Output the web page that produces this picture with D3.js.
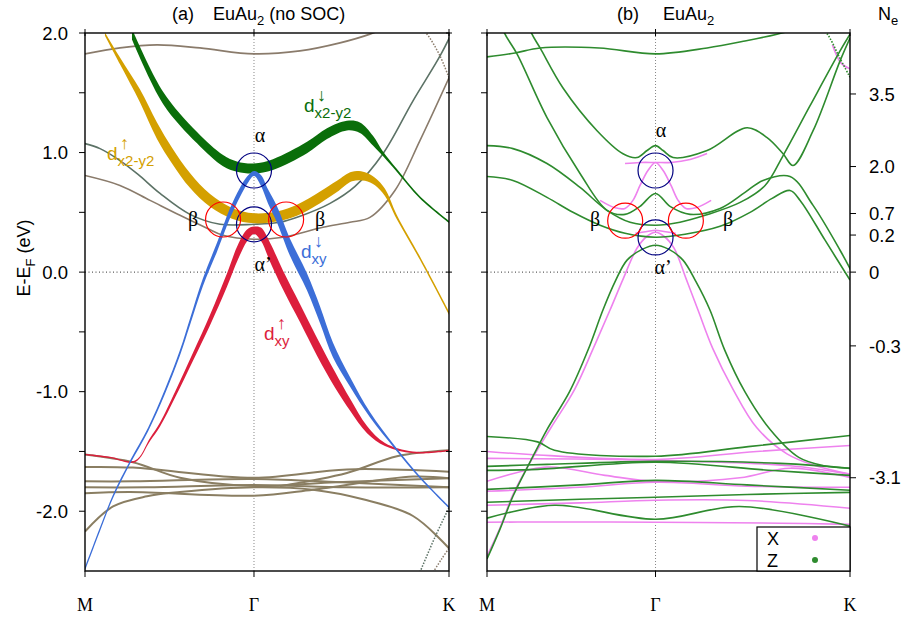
<!DOCTYPE html>
<html><head><meta charset="utf-8">
<script src="https://cdn.jsdelivr.net/npm/d3@7"></script>
<style>
body{margin:0;background:#fff}
text{font-family:"Liberation Sans",Arial,sans-serif}
.serif{font-family:"Liberation Serif","Times New Roman",serif}
</style></head>
<body><svg id="c" width="909" height="618"></svg>
<script>
// ---------- axes data ----------
const kPoints = [0, 1, 2.154];
const kLabels = ["M", "Γ", "K"];
const eMajor = [2.0, 1.0, 0.0, -1.0, -2.0];
const eMinor = [1.5, 0.5, -0.5, -1.5];
const neTickE = [1.49, 0.883, 0.49, 0.31, 0.0, -0.617, -1.72];
const neLabels = ["3.5", "2.0", "0.7", "0.2", "0", "-0.3", "-3.1"];

// ---------- panel (a) bands : [k, E] ----------
const aTop = [[0,1.825],[0.207,1.875],[0.426,1.90],[0.68,1.875],[1,1.825],[1.272,1.85],[1.509,1.917],[1.686,1.99],[1.834,2.08]];
const aLineA = [[0,1.075],[0.089,1.033],[0.207,0.933],[0.314,0.817],[0.444,0.658],[0.621,0.483],[0.799,0.40],[1,0.40],[1.154,0.417],[1.272,0.467],[1.45,0.575],[1.598,0.717],[1.763,0.99],[1.941,1.433],[2.101,1.808],[2.19,2.058]];
const aLineB = [[0,0.808],[0.207,0.725],[0.385,0.60],[0.562,0.475],[0.722,0.367],[0.817,0.308],[1,0.275],[1.172,0.292],[1.408,0.375],[1.568,0.417],[1.686,0.458],[1.834,0.683],[1.982,1.10],[2.154,1.625]];
const aK1 = [[1.923,2.14],[2.024,1.99],[2.1,1.81],[2.154,1.625]];
const aF1 = [[0,-1.525],[0.284,-1.59],[0.562,-1.72],[1,-1.79],[1.45,-1.76],[2.154,-1.725]];
const aF2 = [[0,-1.63],[0.284,-1.635],[1,-1.72],[1.55,-1.65],[2.154,-1.67]];
const aF3 = [[0,-1.75],[0.284,-1.75],[1,-1.73],[1.55,-1.76],[2.154,-1.80]];
const aF4 = [[0,-1.80],[0.367,-1.80],[1,-1.78],[1.55,-1.80],[2.154,-1.80]];
const aF5 = [[0,-1.85],[0.266,-1.84],[1,-1.87],[1.349,-1.82],[1.941,-1.71],[2.154,-1.725]];
const aF6 = [[0,-2.17],[0.166,-1.96],[0.367,-1.875],[0.562,-1.84],[1,-1.80],[1.349,-1.82],[1.645,-1.90],[1.941,-2.04],[2.154,-2.31]];
const aF7 = [[1.154,-1.79],[1.55,-1.68],[1.846,-1.54],[2.154,-1.49]];
const aK2 = [[1.982,-2.51],[2.07,-2.22],[2.154,-1.97]];
const aK3 = [[2.06,-2.51],[2.11,-2.40],[2.154,-2.31]];

// fat bands: points + projection weights (0..1)
const aGreen = [[0.278,1.99],[0.462,1.458],[0.663,1.125],[0.817,0.933],[0.899,0.883],[1,0.867],[1.112,0.9],[1.314,1.042],[1.432,1.158],[1.55,1.225],[1.627,1.208],[1.704,1.10],[1.763,0.99],[1.846,0.85],[1.982,0.625],[2.154,0.42]];
const aGreenW = [0.4,0.6,0.75,0.9,1,1,1,1,0.95,0.95,0.9,0.6,0.2,0.08,0.05,0.05];
const aYellow = [[0.118,1.99],[0.207,1.767],[0.325,1.475],[0.426,1.183],[0.515,0.975],[0.621,0.767],[0.74,0.60],[0.87,0.492],[1,0.45],[1.142,0.467],[1.254,0.517],[1.391,0.625],[1.491,0.717],[1.58,0.80],[1.657,0.80],[1.716,0.758],[1.775,0.667],[1.846,0.458],[1.982,0.117],[2.154,-0.342]];
const aYellowW = [0.05,0.25,0.55,0.75,0.85,0.95,1,1,1,1,1,1,0.95,0.9,0.8,0.55,0.3,0.1,0.05,0.05];
const aBlue = [[0,-2.483],[0.089,-2.15],[0.166,-1.875],[0.266,-1.592],[0.373,-1.317],[0.473,-1.0],[0.562,-0.675],[0.621,-0.417],[0.698,-0.083],[0.781,0.208],[0.858,0.492],[0.917,0.667],[0.959,0.767],[1,0.825],[1.041,0.767],[1.083,0.633],[1.136,0.483],[1.213,0.208],[1.314,-0.083],[1.391,-0.358],[1.467,-0.65],[1.568,-0.917],[1.686,-1.192],[1.834,-1.467],[1.982,-1.717],[2.154,-1.967]];
const aBlueW = [0.02,0.02,0.03,0.04,0.05,0.07,0.1,0.15,0.2,0.25,0.3,0.35,0.4,0.45,0.5,0.55,0.6,0.65,0.65,0.6,0.55,0.4,0.2,0.06,0.03,0.02];
const aRed = [[0,-1.525],[0.148,-1.55],[0.296,-1.583],[0.385,-1.40],[0.444,-1.275],[0.533,-1.025],[0.639,-0.708],[0.74,-0.40],[0.84,-0.067],[0.905,0.167],[0.959,0.308],[1,0.35],[1.041,0.317],[1.095,0.167],[1.172,-0.067],[1.272,-0.342],[1.373,-0.625],[1.479,-0.90],[1.568,-1.108],[1.669,-1.317],[1.775,-1.442],[1.941,-1.508],[2.154,-1.492]];
const aRedW = [0.02,0.02,0.03,0.05,0.08,0.15,0.25,0.35,0.45,0.55,0.65,0.7,0.75,0.8,0.8,0.8,0.8,0.75,0.6,0.4,0.15,0.04,0.02];

// ---------- panel (b) bands ----------
const bTop = [[0,1.80],[0.166,1.833],[0.315,1.875],[0.665,1.875],[1,1.825],[1.306,1.875],[1.531,1.933],[1.721,1.99],[1.858,2.04]];
const bA = [[0.226,2.14],[0.267,1.99],[0.315,1.875],[0.451,1.54],[0.653,1.183],[0.807,0.99],[0.89,0.958],[0.95,1.017],[1,1.058],[1.045,1.017],[1.104,0.958],[1.306,1.017],[1.543,1.208],[1.662,1.125],[1.757,0.99],[1.816,0.892],[1.935,1.183],[2.095,1.767],[2.154,1.958]];
const bB = [[0.077,2.10],[0.107,1.99],[0.178,1.825],[0.356,1.292],[0.552,0.825],[0.712,0.517],[0.819,0.483],[0.908,0.55],[1,0.658],[1.086,0.55],[1.205,0.483],[1.383,0.533],[1.531,0.667],[1.638,0.767],[1.798,0.80],[1.935,0.558],[2.095,0.183],[2.184,-0.05]];
const bC = [[0,1.058],[0.154,1.033],[0.356,0.908],[0.552,0.708],[0.712,0.517],[0.849,0.417],[1,0.392],[1.145,0.417],[1.294,0.475],[1.502,0.583],[1.65,0.725],[1.757,0.975],[1.917,1.392],[2.095,1.85],[2.154,1.99]];
const bD = [[0,0.80],[0.154,0.767],[0.356,0.625],[0.51,0.50],[0.671,0.392],[0.819,0.325],[1,0.292],[1.175,0.317],[1.383,0.383],[1.561,0.50],[1.692,0.617],[1.798,0.683],[1.858,0.60],[2.006,0.267],[2.154,-0.067]];
const bK1 = [[1.93,2.12],[2.02,1.99],[2.09,1.80],[2.154,1.63]];
const bGreenV = [[0,-2.40],[0.077,-2.15],[0.154,-1.875],[0.255,-1.59],[0.356,-1.317],[0.49,-1.0],[0.60,-0.65],[0.688,-0.317],[0.76,-0.08],[0.831,0.1],[0.92,0.19],[1,0.225],[1.08,0.19],[1.163,0.1],[1.24,-0.08],[1.323,-0.317],[1.41,-0.65],[1.53,-1.0],[1.68,-1.317],[1.85,-1.55],[2.0,-1.62],[2.154,-1.64]];
const bPinkV = [[0,-2.375],[0.077,-2.14],[0.154,-1.86],[0.26,-1.58],[0.38,-1.30],[0.52,-0.98],[0.63,-0.64],[0.73,-0.317],[0.81,-0.05],[0.89,0.20],[0.95,0.30],[1,0.333],[1.05,0.30],[1.11,0.20],[1.18,-0.05],[1.252,-0.317],[1.34,-0.64],[1.46,-0.98],[1.6,-1.30],[1.78,-1.52],[1.95,-1.62],[2.154,-1.69]];
const bPinkA = [[0.671,0.60],[0.76,0.538],[0.819,0.533],[0.866,0.60],[0.908,0.725],[0.955,0.85],[1,0.917],[1.045,0.85],[1.092,0.725],[1.134,0.60],[1.18,0.533],[1.24,0.538],[1.33,0.60]];
const bPinkFlat = [[0.819,0.908],[0.908,0.917],[1,0.917],[1.092,0.917],[1.205,0.942],[1.306,0.992]];
const bPinkFlat2 = [[0.88,0.325],[0.95,0.34],[1,0.35],[1.05,0.34],[1.12,0.325]];
const bPinkK = [[2.05,1.90],[2.10,1.75],[2.154,1.70]];
const bFG1 = [[0,-1.375],[0.3,-1.42],[0.4,-1.49],[1,-1.54],[1.55,-1.46],[2.154,-1.367]];
const bFP1 = [[0,-1.50],[0.255,-1.525],[1,-1.567],[1.6,-1.50],[2.154,-1.45]];
const bFP2 = [[0,-1.558],[1,-1.575],[1.8,-1.62],[2.154,-1.692]];
const bFG2 = [[0,-1.625],[0.356,-1.608],[1,-1.583],[1.739,-1.60],[2.154,-1.642]];
const bFG3 = [[0,-1.658],[0.3,-1.65],[1,-1.59],[1.7,-1.66],[2.154,-1.70]];
const bFP3 = [[0,-1.75],[0.356,-1.63],[0.7,-1.70],[1,-1.75],[1.5,-1.72],[1.8,-1.64],[2.154,-1.717]];
const bFG4 = [[0,-1.817],[0.552,-1.78],[1,-1.742],[1.543,-1.78],[2.154,-1.825]];
const bFP4 = [[0,-1.833],[0.552,-1.80],[1,-1.758],[1.543,-1.79],[2.154,-1.80]];
const bFG5 = [[0,-1.925],[0.552,-1.90],[1,-1.883],[1.543,-1.86],[2.154,-1.842]];
const bFP5 = [[0,-1.95],[0.552,-1.93],[1,-1.908],[1.543,-1.91],[2.154,-1.975]];
const bFG6 = [[0,-2.058],[0.4,-1.95],[1,-2.067],[1.5,-1.96],[2.154,-2.125]];
const bFP6 = [[0,-2.092],[0.255,-2.09],[1,-2.092],[1.739,-2.10],[2.154,-2.11]];

// ---------- scales ----------
const svg = d3.select("#c");
const y = d3.scaleLinear().domain([-2.5, 2.0]).range([571, 33]);
const xa = d3.scaleLinear().domain([0, 2.154]).range([85, 449]);
const xb = d3.scaleLinear().domain([0, 2.154]).range([487, 850]);
const wScale = d3.scaleLinear().domain([0, 1]).range([0.6, 5]);

const defs = svg.append("defs");
[["clipA", xa], ["clipB", xb]].forEach(([id, xs]) => {
  defs.append("clipPath").attr("id", id).append("rect")
    .attr("x", xs.range()[0]).attr("y", y.range()[1])
    .attr("width", xs.range()[1] - xs.range()[0]).attr("height", y.range()[0] - y.range()[1]);
});

function thin(g, xs, pts, color, width, dash) {
  const line = d3.line().x(d => xs(d[0])).y(d => y(d[1])).curve(d3.curveCatmullRom);
  g.append("path").datum(pts).attr("d", line).attr("fill", "none")
    .attr("stroke", color).attr("stroke-width", width || 1.5)
    .attr("stroke-dasharray", dash || null);
}
function fat(g, xs, pts, wts, color) {
  const data = pts.map((p, i) => ({px: xs(p[0]), py: y(p[1]), w: wts[i]}));
  data.forEach((d, i) => {
    const a = data[Math.max(0, i - 1)], b = data[Math.min(data.length - 1, i + 1)];
    const s = (b.py - a.py) / ((b.px - a.px) || 1e-6);
    d.h = wScale(d.w) * Math.min(2.6, Math.sqrt(1 + s * s));
  });
  const area = d3.area().x(d => d.px).y0(d => d.py - d.h).y1(d => d.py + d.h).curve(d3.curveCatmullRom);
  g.append("path").datum(data).attr("d", area).attr("fill", color);
}

function frame(xs) {
  const g = svg.append("g");
  g.append("line").attr("x1", xs(1)).attr("x2", xs(1)).attr("y1", y.range()[1]).attr("y2", y.range()[0])
    .attr("stroke", "#888").attr("stroke-width", 1).attr("stroke-dasharray", "1,2");
  g.append("line").attr("x1", xs.range()[0]).attr("x2", xs.range()[1]).attr("y1", y(0)).attr("y2", y(0))
    .attr("stroke", "#333").attr("stroke-width", 1).attr("stroke-dasharray", "1,2.5");
  return g;
}
function border(xs, leftLabels) {
  const g = svg.append("g");
  g.append("rect").attr("x", xs.range()[0]).attr("y", y.range()[1])
    .attr("width", xs.range()[1] - xs.range()[0]).attr("height", y.range()[0] - y.range()[1])
    .attr("fill", "none").attr("stroke", "#000").attr("stroke-width", 1.4);
  eMajor.concat(eMinor).forEach(e => {
    g.append("line").attr("x1", xs.range()[0] - 6).attr("x2", xs.range()[0]).attr("y1", y(e)).attr("y2", y(e)).attr("stroke", "#000");
    if (leftLabels) g.append("line").attr("x1", xs.range()[1] - 3).attr("x2", xs.range()[1] + 3).attr("y1", y(e)).attr("y2", y(e)).attr("stroke", "#000");
  });
  kPoints.forEach((k, i) => {
    g.append("line").attr("x1", xs(k)).attr("x2", xs(k)).attr("y1", y.range()[0]).attr("y2", y.range()[0] + 6).attr("stroke", "#000");
    g.append("line").attr("x1", xs(k)).attr("x2", xs(k)).attr("y1", y.range()[1] - 4).attr("y2", y.range()[1] + 3).attr("stroke", "#000");
    g.append("text").attr("class", "serif").attr("x", xs(k)).attr("y", 611).attr("text-anchor", "middle")
      .attr("font-size", 18).text(kLabels[i]);
  });
  if (leftLabels) {
    eMajor.forEach(e => g.append("text").attr("x", 68).attr("y", y(e)).attr("dy", "0.36em")
      .attr("text-anchor", "end").attr("font-size", 18.5).text(e.toFixed(1)));
  }
  return g;
}

// ---------- panel (a) ----------
frame(xa);
const ga = svg.append("g").attr("clip-path", "url(#clipA)");
const olive = "#8a7e62", greyGreen = "#5c7266", greyBrown = "#8a7b6b";
[aF1, aF2, aF3, aF4, aF5, aF6, aF7].forEach(b => thin(ga, xa, b, olive, 2));
thin(ga, xa, aTop, greyBrown, 1.8);
thin(ga, xa, aLineA, greyGreen, 1.6);
thin(ga, xa, aLineB, greyBrown, 1.6);
thin(ga, xa, aK1, greyBrown, 1.5, "1.5,1.5");
thin(ga, xa, aK2, greyGreen, 1.5, "1.5,1.5");
thin(ga, xa, aK3, greyBrown, 1.5, "1.5,1.5");
fat(ga, xa, aYellow, aYellowW, "#d4a000");
fat(ga, xa, aGreen, aGreenW, "#0a6e0a");
fat(ga, xa, aRed, aRedW, "#dc1e3c");
fat(ga, xa, aBlue, aBlueW, "#3c6ed8");
border(xa, true);

// ---------- panel (b) ----------
frame(xb);
const gb = svg.append("g").attr("clip-path", "url(#clipB)");
const pink = "#ee82ee", green = "#2e8b2e";
[bFP1, bFP2, bFP3, bFP4, bFP5, bFP6, bPinkV, bPinkA, bPinkFlat, bPinkFlat2, bPinkK].forEach(b => thin(gb, xb, b, pink, 1.6));
[bFG1, bFG2, bFG3, bFG4, bFG5, bFG6, bTop, bA, bB, bC, bD, bGreenV].forEach(b => thin(gb, xb, b, green, 1.6));
thin(gb, xb, bK1, green, 1.6, "1.5,1.5");
border(xb, false);

// right N_e axis
neTickE.forEach((e, i) => {
  svg.append("line").attr("x1", 850).attr("x2", 856).attr("y1", y(e)).attr("y2", y(e)).attr("stroke", "#000");
  svg.append("text").attr("x", 869).attr("y", y(e)).attr("dy", "0.36em").attr("font-size", 18.5).text(neLabels[i]);
});

// circles
const circ = [[xa, 1, 0.85, "#000080"], [xa, 1, 0.40, "#000080"], [xa, 0.817, 0.44, "red"], [xa, 1.19, 0.44, "red"],
              [xb, 1, 0.85, "#000080"], [xb, 1, 0.29, "#000080"], [xb, 0.82, 0.43, "red"], [xb, 1.18, 0.43, "red"]];
circ.forEach(c => svg.append("circle").attr("cx", c[0](c[1])).attr("cy", y(c[2])).attr("r", 17.5)
  .attr("fill", "none").attr("stroke", c[3]).attr("stroke-width", 1.2));

// greek labels
const greek = [[260, 142, "α"], [263, 271, "α’"], [193, 226, "β"], [320, 226, "β"],
               [661, 137, "α"], [663, 274, "α’"], [595, 226, "β"], [728, 226, "β"]];
greek.forEach(g => svg.append("text").attr("class", "serif").attr("x", g[0]).attr("y", g[1])
  .attr("text-anchor", "middle").attr("font-size", 20).text(g[2]));

// orbital labels
function orb(x, yb, arrow, sub, color) {
  const t = svg.append("text").attr("x", x).attr("y", yb).attr("fill", color).attr("font-size", 19);
  t.append("tspan").text("d");
  svg.append("text").attr("x", x + 13).attr("y", yb - 11).attr("fill", color).attr("font-size", 18).text(arrow);
  t.append("tspan").attr("dy", 6).attr("font-size", 15).text(sub);
}
orb(107, 160, "↑", "x2-y2", "#d4a000");
orb(304, 112, "↓", "x2-y2", "#0a6e0a");
orb(301, 258, "↓", "xy", "#3c6ed8");
orb(264, 340, "↑", "xy", "#dc1e3c");

// titles
function title(x1, x2, rest) {
  const t = svg.append("text").attr("y", 20).attr("font-size", 18);
  t.append("tspan").attr("x", x1).text(rest[0]);
  t.append("tspan").attr("x", x2).text("EuAu");
  t.append("tspan").attr("dy", 5).attr("font-size", 13).text("2");
  if (rest[1]) t.append("tspan").attr("dy", -5).text(rest[1]);
}
title(172, 213, ["(a)", " (no SOC)"]);
title(617, 663, ["(b)", null]);
const tn = svg.append("text").attr("x", 878).attr("y", 20).attr("font-size", 18);
tn.append("tspan").text("N");
tn.append("tspan").attr("dy", 5).attr("font-size", 13).text("e");

// y label
const yl = svg.append("text").attr("transform", "translate(30,258) rotate(-90)").attr("text-anchor", "middle").attr("font-size", 18);
yl.append("tspan").text("E-E");
yl.append("tspan").attr("dy", 5).attr("font-size", 13).text("F");
yl.append("tspan").attr("dy", -5).text(" (eV)");

// legend
const legendNames = ["X", "Z"];
const legendColors = [pink, green];
svg.append("rect").attr("x", 757).attr("y", 527).attr("width", 93).attr("height", 44)
  .attr("fill", "#fff").attr("stroke", "#000").attr("stroke-width", 1.2);
legendNames.forEach((n, i) => {
  svg.append("text").attr("x", 767).attr("y", 545 + i * 22).attr("font-size", 18).text(n);
  svg.append("circle").attr("cx", 815).attr("cy", 538 + i * 22).attr("r", 3).attr("fill", legendColors[i]);
});
</script></body></html>
